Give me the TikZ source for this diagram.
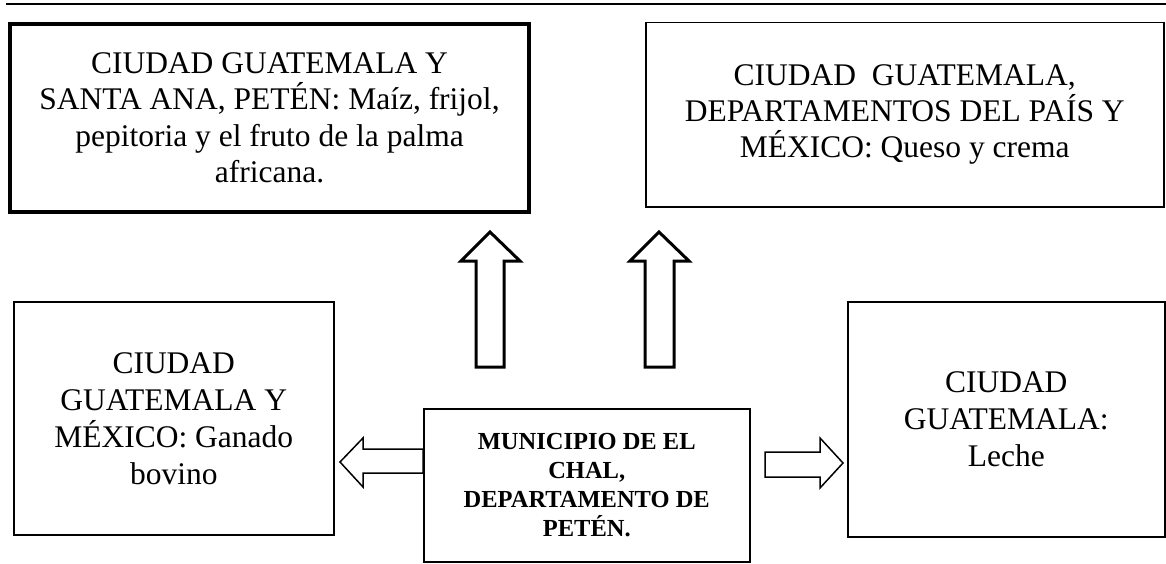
\documentclass[tikz,border=0pt]{standalone}
\usepackage{fontspec}
\setmainfont{Liberation Serif}
\begin{document}
\begin{tikzpicture}[x=1pt,y=-1pt,
  box/.style={draw, line width=1.5pt, align=center, inner sep=0pt, anchor=north west,
    font=\fontsize{31.5}{37}\selectfont},
  thickbox/.style={box, line width=4pt, font=\fontsize{31.5}{36.5}\selectfont},
  trbox/.style={box, font=\fontsize{31.5}{36}\selectfont},
  centerbox/.style={box, font=\bfseries\fontsize{24.5}{29}\selectfont},
  uparrow/.style={draw, line width=3pt, fill=white, line join=miter},
  sidearrow/.style={draw, line width=1.5pt, fill=white, line join=miter}]
\useasboundingbox (0,0) rectangle (1166,564);
\fill[white] (0,0) rectangle (1166,564);
\draw[line width=2pt] (6,4) -- (1166,4);

\node[thickbox, minimum width=519pt, minimum height=188pt] (tl) at (8,22)
  {CIUDAD GUATEMALA Y\\SANTA ANA, PETÉN: Maíz, frijol,\\pepitoria y el fruto de la palma\\africana.};
\node[trbox, minimum width=518pt, minimum height=184pt] (tr) at (645,22)
  {CIUDAD\ \ GUATEMALA,\\DEPARTAMENTOS DEL PAÍS Y\\MÉXICO: Queso y crema};
\node[box, minimum width=320pt, minimum height=233pt] (lf) at (13,301)
  {CIUDAD\\GUATEMALA Y\\MÉXICO: Ganado\\bovino};
\node[box, minimum width=317pt, minimum height=235pt] (rt) at (847,301)
  {CIUDAD\\GUATEMALA:\\Leche};
\node[centerbox, minimum width=326pt, minimum height=153pt] (ct) at (423,408)
  {MUNICIPIO DE EL\\CHAL,\\DEPARTAMENTO DE\\PETÉN.};

\draw[uparrow] (476,367) -- (476,261) -- (461,261) -- (490,232) -- (520,261) -- (504,261) -- (504,367) -- cycle;
\draw[uparrow] (645,367) -- (645,261) -- (630,261) -- (659,232) -- (689,261) -- (674,261) -- (674,367) -- cycle;
\draw[sidearrow] (ct.west |- 0,449) -- (363,449) -- (363,438) -- (340,462) -- (363,487) -- (363,473) -- (ct.west |- 0,473) -- cycle;
\draw[sidearrow] (765,452) -- (820,452) -- (820,438) -- (843,463) -- (820,488) -- (820,477) -- (765,477) -- cycle;
\end{tikzpicture}
\end{document}
